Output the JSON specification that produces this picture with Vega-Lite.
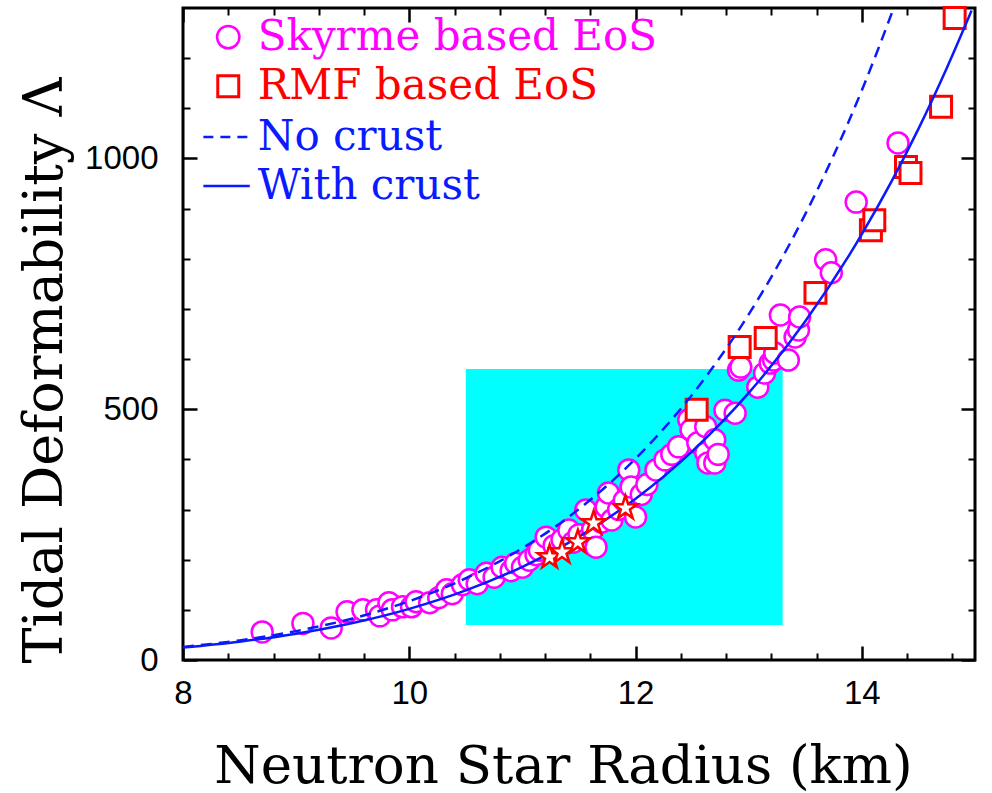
{
  "$schema": "https://vega.github.io/schema/vega-lite/v6.json",
  "width": 792,
  "height": 652,
  "autosize": {"type": "none"},
  "padding": {"left": 183, "top": 8, "right": 17, "bottom": 133},
  "background": "white",
  "config": {
    "view": {"stroke": "black", "strokeWidth": 3},
    "axis": {"grid": false, "domain": false, "tickColor": "black", "labelColor": "black", "titleColor": "black", "labelFlush": false, "labelOverlap": false}
  },
  "datasets": {
    "box": [{"r": 10.5, "r2": 13.3, "lam": 70, "lam2": 580}],
    "nocrust": [
      {"r": 8, "lam": 26}, {"r": 8.5, "lam": 39.1}, {"r": 9, "lam": 57.6}, {"r": 9.5, "lam": 82.9},
      {"r": 10, "lam": 117.3}, {"r": 10.5, "lam": 163}, {"r": 11, "lam": 223}, {"r": 11.5, "lam": 301},
      {"r": 12, "lam": 401.5}, {"r": 12.5, "lam": 529}, {"r": 13, "lam": 689}, {"r": 13.25, "lam": 783.6},
      {"r": 13.5, "lam": 889}, {"r": 13.75, "lam": 1006}, {"r": 14, "lam": 1136}, {"r": 14.28, "lam": 1299}
    ],
    "crust": [
      {"r": 8, "lam": 25}, {"r": 8.5, "lam": 36.6}, {"r": 9, "lam": 52.5}, {"r": 9.5, "lam": 73.8},
      {"r": 10, "lam": 102}, {"r": 10.5, "lam": 138.7}, {"r": 11, "lam": 185.9}, {"r": 11.5, "lam": 246},
      {"r": 12, "lam": 321.5}, {"r": 12.5, "lam": 416}, {"r": 13, "lam": 532.5}, {"r": 13.5, "lam": 675.5},
      {"r": 14, "lam": 849}, {"r": 14.5, "lam": 1059}, {"r": 14.75, "lam": 1180}, {"r": 14.97, "lam": 1295}
    ],
    "skyrme": [
      {"r": 8.70, "lam": 56}, {"r": 9.06, "lam": 73}, {"r": 9.31, "lam": 64}, {"r": 9.45, "lam": 96},
      {"r": 9.59, "lam": 100}, {"r": 9.71, "lam": 100}, {"r": 9.74, "lam": 88}, {"r": 9.82, "lam": 114},
      {"r": 9.85, "lam": 100}, {"r": 9.94, "lam": 106}, {"r": 10.02, "lam": 106}, {"r": 10.06, "lam": 116},
      {"r": 10.18, "lam": 114}, {"r": 10.26, "lam": 124}, {"r": 10.33, "lam": 140}, {"r": 10.38, "lam": 132},
      {"r": 10.47, "lam": 150}, {"r": 10.53, "lam": 160}, {"r": 10.60, "lam": 152}, {"r": 10.68, "lam": 173},
      {"r": 10.75, "lam": 165}, {"r": 10.82, "lam": 185}, {"r": 10.90, "lam": 178}, {"r": 10.94, "lam": 193},
      {"r": 11.00, "lam": 185}, {"r": 11.06, "lam": 199}, {"r": 11.12, "lam": 210}, {"r": 11.15, "lam": 219},
      {"r": 11.21, "lam": 245}, {"r": 11.28, "lam": 228}, {"r": 11.35, "lam": 240}, {"r": 11.41, "lam": 259},
      {"r": 11.45, "lam": 235}, {"r": 11.50, "lam": 250}, {"r": 11.56, "lam": 299}, {"r": 11.56, "lam": 239},
      {"r": 11.62, "lam": 260}, {"r": 11.65, "lam": 225}, {"r": 11.70, "lam": 275}, {"r": 11.74, "lam": 305},
      {"r": 11.76, "lam": 333}, {"r": 11.79, "lam": 279}, {"r": 11.85, "lam": 300}, {"r": 11.90, "lam": 318},
      {"r": 11.94, "lam": 379}, {"r": 11.96, "lam": 345}, {"r": 12.00, "lam": 285}, {"r": 12.05, "lam": 330},
      {"r": 12.10, "lam": 350}, {"r": 12.18, "lam": 379}, {"r": 12.26, "lam": 399}, {"r": 12.32, "lam": 410},
      {"r": 12.38, "lam": 425}, {"r": 12.47, "lam": 479}, {"r": 12.49, "lam": 459}, {"r": 12.55, "lam": 433},
      {"r": 12.62, "lam": 413}, {"r": 12.64, "lam": 393}, {"r": 12.62, "lam": 465}, {"r": 12.70, "lam": 439},
      {"r": 12.70, "lam": 393}, {"r": 12.73, "lam": 410}, {"r": 12.79, "lam": 498}, {"r": 12.88, "lam": 492},
      {"r": 12.91, "lam": 578}, {"r": 12.93, "lam": 584}, {"r": 13.08, "lam": 544}, {"r": 13.14, "lam": 572},
      {"r": 13.19, "lam": 592}, {"r": 13.22, "lam": 598}, {"r": 13.23, "lam": 612}, {"r": 13.28, "lam": 688},
      {"r": 13.35, "lam": 598}, {"r": 13.41, "lam": 644}, {"r": 13.44, "lam": 658}, {"r": 13.45, "lam": 684},
      {"r": 13.68, "lam": 798}, {"r": 13.73, "lam": 772}, {"r": 13.95, "lam": 913}, {"r": 14.32, "lam": 1031}
    ],
    "rmf": [
      {"r": 12.54, "lam": 499}, {"r": 12.92, "lam": 624}, {"r": 13.15, "lam": 642}, {"r": 13.59, "lam": 732},
      {"r": 14.08, "lam": 857}, {"r": 14.11, "lam": 877}, {"r": 14.39, "lam": 983}, {"r": 14.43, "lam": 971},
      {"r": 14.70, "lam": 1103}, {"r": 14.82, "lam": 1280}
    ],
    "stars": [
      {"r": 11.24, "lam": 205}, {"r": 11.35, "lam": 215}, {"r": 11.49, "lam": 235}, {"r": 11.63, "lam": 273}, {"r": 11.91, "lam": 303}
    ],
    "legtext": [
      {"r": 8.66, "lam": 1242, "label": "Skyrme based EoS", "kind": "skyrme"},
      {"r": 8.66, "lam": 1144, "label": "RMF based EoS", "kind": "rmf"},
      {"r": 8.66, "lam": 1043, "label": "No crust", "kind": "nocrust"},
      {"r": 8.66, "lam": 945, "label": "With crust", "kind": "crust"}
    ],
    "legcircle": [{"r": 8.40, "lam": 1242}],
    "legsquare": [{"r": 8.40, "lam": 1144}],
    "legdash": [{"r": 8.18, "lam": 1043}, {"r": 8.59, "lam": 1043}],
    "legsolid": [{"r": 8.18, "lam": 945}, {"r": 8.59, "lam": 945}]
  },
  "layer": [
    {
      "data": {"name": "box"},
      "mark": {"type": "rect", "color": "#00ffff"},
      "encoding": {
        "x": {"field": "r", "type": "quantitative", "scale": {"domain": [8, 15], "nice": false, "zero": false},
          "axis": {"orient": "bottom", "values": [8, 10, 12, 14], "format": "d", "offset": -14, "tickSize": 14, "tickWidth": 2.5,
            "labelFont": "Liberation Sans", "labelFontSize": 33, "labelPadding": 33, "labelBaseline": "middle",
            "title": "Neutron Star Radius (km)", "titleFont": "DejaVu Serif", "titleFontSize": 53, "titleFontWeight": "normal",
            "titleX": 380, "titleY": 120, "titleAlign": "center", "titleBaseline": "middle", "titleAnchor": null}},
        "x2": {"field": "r2"},
        "y": {"field": "lam", "type": "quantitative", "scale": {"domain": [0, 1300], "nice": false},
          "axis": {"orient": "left", "values": [0, 500, 1000], "format": "d", "offset": -14, "tickSize": 14, "tickWidth": 2.5,
            "labelFont": "Liberation Sans", "labelFontSize": 33, "labelPadding": 25,
            "title": "Tidal Deformability Λ", "titleFont": "DejaVu Serif", "titleFontSize": 54, "titleFontWeight": "normal",
            "titleX": -152, "titleY": 362, "titleAngle": -90, "titleAlign": "center", "titleBaseline": "middle", "titleAnchor": null}},
        "y2": {"field": "lam2"}
      }
    },
    {
      "data": {"name": "skyrme"},
      "mark": {"type": "point", "shape": "circle", "filled": false, "fill": "white", "fillOpacity": 1, "stroke": "#ff00ff", "strokeWidth": 2.5, "size": 440, "opacity": 1},
      "encoding": {
        "x": {"field": "r", "type": "quantitative", "scale": {"domain": [8, 15], "nice": false, "zero": false},
          "axis": {"orient": "bottom", "values": [8.4, 8.8, 9.2, 9.6, 10.4, 10.8, 11.2, 11.6, 12.4, 12.8, 13.2, 13.6, 14.4, 14.8], "offset": -7, "tickSize": 7, "tickWidth": 2, "labels": false, "title": null}},
        "y": {"field": "lam", "type": "quantitative", "scale": {"domain": [0, 1300], "nice": false},
          "axis": {"orient": "left", "values": [100, 200, 300, 400, 600, 700, 800, 900, 1100, 1200], "offset": -7, "tickSize": 7, "tickWidth": 2, "labels": false, "title": null}}
      }
    },
    {
      "data": {"name": "rmf"},
      "mark": {"type": "point", "shape": "square", "filled": false, "fill": "white", "fillOpacity": 1, "stroke": "#ff0000", "strokeWidth": 3, "size": 440, "opacity": 1},
      "encoding": {
        "x": {"field": "r", "type": "quantitative", "scale": {"domain": [8, 15], "nice": false, "zero": false},
          "axis": {"orient": "top", "values": [8, 10, 12, 14], "offset": -14, "tickSize": 14, "tickWidth": 2.5, "labels": false, "title": null}},
        "y": {"field": "lam", "type": "quantitative", "scale": {"domain": [0, 1300], "nice": false},
          "axis": {"orient": "right", "values": [0, 500, 1000], "offset": -14, "tickSize": 14, "tickWidth": 2.5, "labels": false, "title": null}}
      }
    },
    {
      "data": {"name": "nocrust"},
      "mark": {"type": "line", "color": "#0a1aff", "strokeWidth": 2.5, "strokeDash": [11, 7], "interpolate": "monotone"},
      "encoding": {
        "x": {"field": "r", "type": "quantitative", "scale": {"domain": [8, 15], "nice": false, "zero": false},
          "axis": {"orient": "top", "values": [8.4, 8.8, 9.2, 9.6, 10.4, 10.8, 11.2, 11.6, 12.4, 12.8, 13.2, 13.6, 14.4, 14.8], "offset": -7, "tickSize": 7, "tickWidth": 2, "labels": false, "title": null}},
        "y": {"field": "lam", "type": "quantitative", "scale": {"domain": [0, 1300], "nice": false},
          "axis": {"orient": "right", "values": [100, 200, 300, 400, 600, 700, 800, 900, 1100, 1200], "offset": -7, "tickSize": 7, "tickWidth": 2, "labels": false, "title": null}}
      }
    },
    {
      "data": {"name": "crust"},
      "mark": {"type": "line", "color": "#0a1aff", "strokeWidth": 2.5, "interpolate": "monotone"},
      "encoding": {
        "x": {"field": "r", "type": "quantitative", "axis": null},
        "y": {"field": "lam", "type": "quantitative", "axis": null}
      }
    },
    {
      "data": {"name": "stars"},
      "mark": {"type": "point", "shape": "M0,-1L0.2245,-0.309L0.951,-0.309L0.3633,0.118L0.5878,0.809L0,0.382L-0.5878,0.809L-0.3633,0.118L-0.951,-0.309L-0.2245,-0.309Z", "filled": false, "fill": "white", "fillOpacity": 1, "stroke": "#ff0000", "strokeWidth": 2.5, "size": 620, "opacity": 1},
      "encoding": {
        "x": {"field": "r", "type": "quantitative", "axis": null},
        "y": {"field": "lam", "type": "quantitative", "axis": null}
      }
    },
    {
      "data": {"name": "legcircle"},
      "mark": {"type": "point", "shape": "circle", "filled": false, "fill": "white", "stroke": "#ff00ff", "strokeWidth": 2.5, "size": 500, "opacity": 1},
      "encoding": {
        "x": {"field": "r", "type": "quantitative", "axis": null},
        "y": {"field": "lam", "type": "quantitative", "axis": null}
      }
    },
    {
      "data": {"name": "legsquare"},
      "mark": {"type": "point", "shape": "square", "filled": false, "fill": "white", "stroke": "#ff0000", "strokeWidth": 3, "size": 440, "opacity": 1},
      "encoding": {
        "x": {"field": "r", "type": "quantitative", "axis": null},
        "y": {"field": "lam", "type": "quantitative", "axis": null}
      }
    },
    {
      "data": {"name": "legdash"},
      "mark": {"type": "line", "color": "#0a1aff", "strokeWidth": 2.5, "strokeDash": [10, 7]},
      "encoding": {
        "x": {"field": "r", "type": "quantitative", "axis": null},
        "y": {"field": "lam", "type": "quantitative", "axis": null}
      }
    },
    {
      "data": {"name": "legsolid"},
      "mark": {"type": "line", "color": "#0a1aff", "strokeWidth": 2.5},
      "encoding": {
        "x": {"field": "r", "type": "quantitative", "axis": null},
        "y": {"field": "lam", "type": "quantitative", "axis": null}
      }
    },
    {
      "data": {"name": "legtext"},
      "mark": {"type": "text", "align": "left", "baseline": "middle", "font": "DejaVu Serif", "fontSize": 42},
      "encoding": {
        "x": {"field": "r", "type": "quantitative", "axis": null},
        "y": {"field": "lam", "type": "quantitative", "axis": null},
        "text": {"field": "label"},
        "color": {"field": "kind", "type": "nominal", "legend": null,
          "scale": {"domain": ["skyrme", "rmf", "nocrust", "crust"], "range": ["#ff00ff", "#ff0000", "#0a1aff", "#0a1aff"]}}
      }
    }
  ],
  "resolve": {"axis": {"x": "independent", "y": "independent"}}
}
